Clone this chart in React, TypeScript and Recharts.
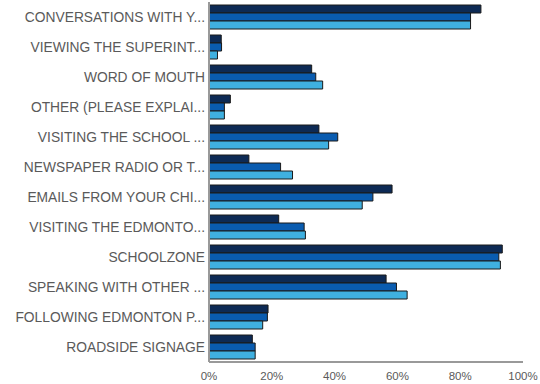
import React from "react";
import { BarChart, Bar, XAxis, YAxis } from "recharts";

const categories = [
  "CONVERSATIONS WITH Y...",
  "VIEWING THE SUPERINT...",
  "WORD OF MOUTH",
  "OTHER (PLEASE EXPLAI...",
  "VISITING THE SCHOOL ...",
  "NEWSPAPER RADIO OR T...",
  "EMAILS FROM YOUR CHI...",
  "VISITING THE EDMONTO...",
  "SCHOOLZONE",
  "SPEAKING WITH OTHER ...",
  "FOLLOWING EDMONTON P...",
  "ROADSIDE SIGNAGE",
];

const seriesA = [86.6, 3.9, 32.7, 6.8, 35, 12.7, 58.3, 22.2, 93.4, 56.4, 18.8, 13.8];
const seriesB = [83.3, 4, 34, 4.9, 41, 22.8, 52.2, 30.3, 92.3, 59.7, 18.6, 14.7];
const seriesC = [83.3, 2.7, 36.2, 4.9, 38.1, 26.6, 48.8, 30.7, 92.8, 63.1, 17.1, 14.7];

const xTicks = [0, 20, 40, 60, 80, 100];

const data = categories.map((name, i) => ({
  name,
  a: seriesA[i],
  b: seriesB[i],
  c: seriesC[i],
}));

const font = "'Liberation Sans', Arial, sans-serif";

const CategoryTick = (props: any) => {
  const { x, y, payload } = props;
  return (
    <text
      x={x + 4}
      y={y}
      dy={5}
      textAnchor="end"
      fill="#5a5a5a"
      fontSize={13.8}
      fontFamily={font}
    >
      {payload.value}
    </text>
  );
};

export default function App() {
  return (
    <div style={{ position: "absolute", left: 0, top: 0, fontFamily: font }}>
      <BarChart
        width={540}
        height={384}
        data={data}
        layout="vertical"
        margin={{ top: 2, right: 17, bottom: 0, left: 0 }}
        barCategoryGap={3}
        barGap={0}
      >
        <XAxis
          type="number"
          domain={[0, 100]}
          ticks={xTicks}
          tickFormatter={(v) => `${v}%`}
          tickLine={false}
          axisLine={{ stroke: "#999", strokeWidth: 2 }}
          tick={{ fill: "#5a5a5a", fontSize: 11.5, fontFamily: font, dy: 2 }}
          height={22}
          interval={0}
        />
        <YAxis
          type="category"
          dataKey="name"
          width={209}
          tickLine={false}
          axisLine={{ stroke: "#999", strokeWidth: 2 }}
          tick={<CategoryTick />}
          interval={0}
        />
        <Bar dataKey="a" fill="#0d2a55" stroke="#1a1a1a" strokeWidth={1} isAnimationActive={false} />
        <Bar dataKey="b" fill="#0a5cb0" stroke="#1a1a1a" strokeWidth={1} isAnimationActive={false} />
        <Bar dataKey="c" fill="#3fb0e0" stroke="#1a1a1a" strokeWidth={1} isAnimationActive={false} />
      </BarChart>
    </div>
  );
}
